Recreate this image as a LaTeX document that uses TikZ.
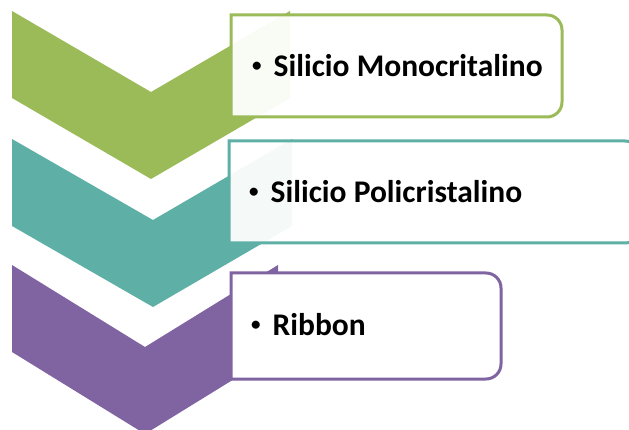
\documentclass[tikz,border=0pt]{standalone}
\usepackage{fontspec}
\setmainfont{Carlito}
\definecolor{olive}{HTML}{9BBB59}
\definecolor{tealc}{HTML}{5EAFA6}
\definecolor{violet}{HTML}{8064A2}
\newcommand\smallbullet{\raisebox{0.16em}{\fontsize{19}{19}\selectfont\textbullet}\hspace{12pt}}
\begin{document}
\begin{tikzpicture}[x=1pt,y=-1pt,
  tagbox/.style={draw=#1,line width=3pt,fill=white,fill opacity=0.94,draw opacity=1},
  solidbox/.style={draw=#1,line width=3pt,fill=white},
  tagtext/.style={anchor=west,inner sep=0pt,font=\fontsize{31.5}{36}\selectfont\bfseries}]
\useasboundingbox (0,0) rectangle (629,430);

% chevron: left x, right x, tip x, top y, notch depth d, side height h, colour
\newcommand\chevshape[7]{%
  \fill[#7] (#1,#4) -- (#3,#4+#5) -- (#2,#4) -- (#2,#4+#6) -- (#3,#4+#5+#6) -- (#1,#4+#6) -- cycle;}
% box with rounded right corners: x0,y0,x1,y1,style
\newcommand\tagshape[5]{%
  \path[#5] (#1,#4) -- (#1,#2) [rounded corners=15pt] -- (#3,#2) -- (#3,#4) [sharp corners] -- (#1,#4) -- cycle;}

% first step
\chevshape{12}{290}{151}{11}{81}{87}{olive}
\tagshape{231}{15}{562}{117}{tagbox=olive}
\node[tagtext] (t1) at (252,66) {\smallbullet Silicio Monocritalino};

% second step
\chevshape{12}{292}{153}{139}{81}{87}{tealc}
\tagshape{229}{141}{640}{243}{tagbox=tealc}
\node[tagtext] (t2) at (249,192) {\smallbullet Silicio Policristalino};

% third step
\chevshape{12}{278}{145}{265}{82}{87}{violet}
\tagshape{231}{273}{501}{379}{solidbox=violet}
\node[tagtext] (t3) at (251,325) {\smallbullet Ribbon};
\end{tikzpicture}
\end{document}
